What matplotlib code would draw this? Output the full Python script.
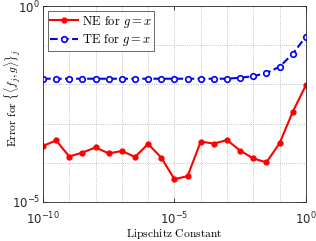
import numpy as np
import matplotlib
matplotlib.use("Agg")
import matplotlib.pyplot as plt
from matplotlib.ticker import LogLocator, NullFormatter

plt.rcParams['mathtext.fontset'] = 'cm'
plt.rcParams['font.family'] = 'DejaVu Sans'

# Lipschitz constants: 1e-10 ... 1e0 in half-decade steps
log_L = [-10, -9.5, -9, -8.5, -8, -7.5, -7, -6.5, -6, -5.5, -5,
         -4.5, -4, -3.5, -3, -2.5, -2, -1.5, -1, -0.5, 0]

# log10 of errors
ne_log = [-3.57, -3.43, -3.84, -3.74, -3.61, -3.76, -3.70, -3.85, -3.52, -3.87,
          -4.42, -4.34, -3.46, -3.51, -3.42, -3.69, -3.89, -3.99, -3.50, -2.70, -2.02]
te_log = [-1.855, -1.855, -1.855, -1.855, -1.855, -1.855, -1.855, -1.855, -1.855, -1.855,
          -1.855, -1.855, -1.855, -1.855, -1.855, -1.83, -1.79, -1.71, -1.55, -1.22, -0.78]

xticks = [1e-10, 1e-5, 1e0]
xtick_labels = [r'$10^{-10}$', r'$10^{-5}$', r'$10^{0}$']
yticks = [1e-5, 1e0]
ytick_labels = [r'$10^{-5}$', r'$10^{0}$']

L = 10.0 ** np.array(log_L)
ne = 10.0 ** np.array(ne_log)
te = 10.0 ** np.array(te_log)

fig = plt.figure(figsize=(3.16, 2.41), dpi=100)
ax = fig.add_axes([0.136, 0.162, 0.832, 0.813])

ax.plot(L, ne, '-o', color='red', lw=1.5, ms=3.5, mfc='red', mec='red',
        label=r'NE for $g = x$')
ax.plot(L, te, '--o', color='blue', lw=1.5, ms=4, mfc='white', mec='blue', mew=1.2,
        label=r'TE for $g = x$')

ax.set_xscale('log')
ax.set_yscale('log')
ax.set_xlim(1e-10, 1e0)
ax.set_ylim(1e-5, 1e0)
ax.set_xticks(xticks)
ax.set_xticklabels(xtick_labels)
ax.set_yticks(yticks)
ax.set_yticklabels(ytick_labels)
for lbl in ax.get_xticklabels() + ax.get_yticklabels():
    lbl.set_math_fontfamily('dejavusans')
ax.xaxis.set_minor_locator(LogLocator(base=10, subs=(1.0,), numticks=20))
ax.yaxis.set_minor_locator(LogLocator(base=10, subs=(1.0,), numticks=20))
ax.xaxis.set_minor_formatter(NullFormatter())
ax.yaxis.set_minor_formatter(NullFormatter())
ax.grid(True, which='both', ls=':', lw=0.6, color='#b0b0b0')
ax.tick_params(which='both', direction='in', top=True, right=True, labelsize=8.5,
               length=3, width=0.6, colors='#262626')
ax.tick_params(which='minor', length=0)
ax.tick_params(axis='x', pad=6)
ax.tick_params(axis='y', pad=2)
for s in ax.spines.values():
    s.set_linewidth(0.6)
    s.set_color('#262626')

ax.set_xlabel(r'$\mathrm{Lipschitz\ Constant}$', fontsize=8.3, labelpad=0)
ax.set_ylabel(r'$\mathrm{Error\ for}\ \{\langle f_j, g\rangle\}_j$', fontsize=8.3)
ax.yaxis.set_label_coords(-0.075, 0.53)

leg = ax.legend(loc='upper left', prop={'family': 'cmr10', 'size': 9},
                frameon=True, fancybox=False, edgecolor='#262626',
                borderpad=0.2, handlelength=2.2, handletextpad=0.3,
                labelspacing=0.2, borderaxespad=0.4)
leg.get_frame().set_linewidth(0.6)

fig.savefig('out.png', dpi=100)
